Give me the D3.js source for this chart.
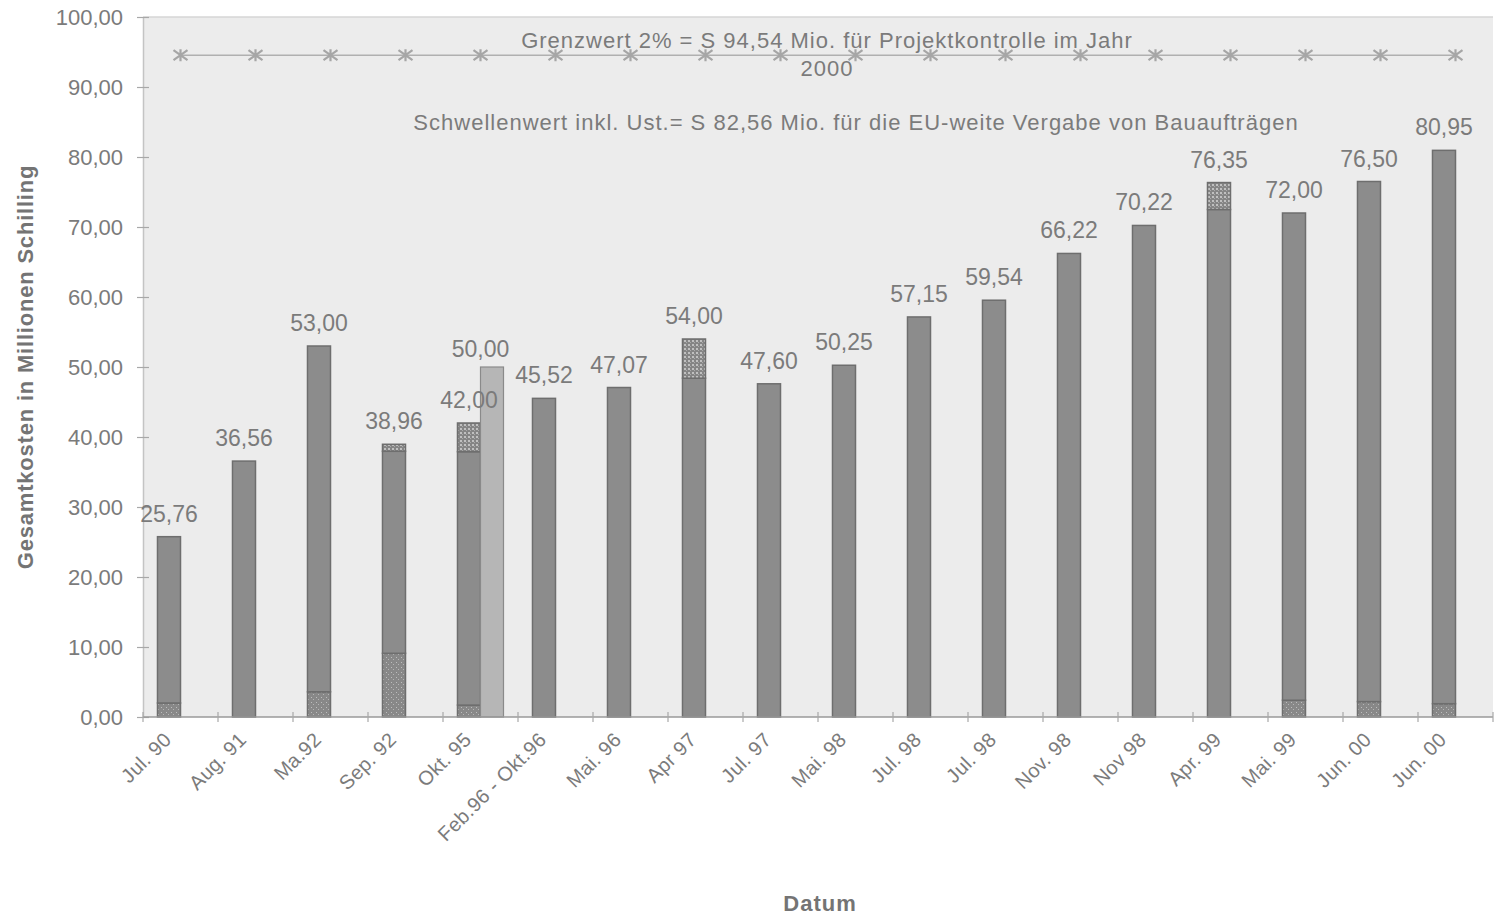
<!DOCTYPE html>
<html>
<head>
<meta charset="utf-8">
<script src="https://cdn.jsdelivr.net/npm/d3@7/dist/d3.min.js"></script>
<style>
  html, body { margin: 0; padding: 0; background: #ffffff; }
  svg { display: block; font-family: "Liberation Sans", Arial, sans-serif; }
</style>
</head>
<body>
<svg id="chart" width="1494" height="918"></svg>
<script>
// Gesamtkosten je Kostenstand (Mio. ATS)
const categories = ["Jul. 90", "Aug. 91", "Ma.92", "Sep. 92", "Okt. 95", "Feb.96 - Okt.96",
  "Mai. 96", "Apr 97", "Jul. 97", "Mai. 98", "Jul. 98", "Jul. 98", "Nov. 98", "Nov 98",
  "Apr. 99", "Mai. 99", "Jun. 00", "Jun. 00"];
const totals = [25.76, 36.56, 53.00, 38.96, 42.00, 45.52, 47.07, 54.00, 47.60, 50.25,
  57.15, 59.54, 66.22, 70.22, 76.35, 72.00, 76.50, 80.95];
// Sockelanteil (unterer Abschnitt) und Nachtrag (oberer Abschnitt) je Balken
const sockel = [2.0, 0, 3.6, 9.1, 1.7, 0, 0, 0, 0, 0, 0, 0, 0, 0, 0, 2.4, 2.2, 1.9];
const nachtrag = [0, 0, 0, 1.0, 4.1, 0, 0, 5.6, 0, 0, 0, 0, 0, 0, 3.85, 0, 0, 0];
// Vergleichswert neben dem Stand Okt. 95
const vergleich = [null, null, null, null, 50.00, null, null, null, null, null,
  null, null, null, null, null, null, null, null];
const grenzwert = 94.54;
const yTicks = [0, 10, 20, 30, 40, 50, 60, 70, 80, 90, 100];
const grenzText = ["Grenzwert 2% = S 94,54 Mio. für Projektkontrolle im Jahr", "2000"];
const schwellenText = "Schwellenwert inkl. Ust.= S 82,56 Mio. für die EU-weite Vergabe von Bauaufträgen";

const plot = { left: 143, right: 1493, top: 17, bottom: 717 };
const svg = d3.select("#chart");

const de = d3.formatLocale({ decimal: ",", thousands: ".", grouping: [3], currency: ["", " S"] });
const fmt = de.format(".2f");

const x = d3.scaleBand().domain(d3.range(categories.length)).range([plot.left, plot.right]);
const sub = d3.scaleBand().domain(["haupt", "vergleich"]).range([0, x.bandwidth()])
  .paddingInner(0).paddingOuter(0.63);
const y = d3.scaleLinear().domain([0, 100]).range([plot.bottom, plot.top]);

const textGray = "#7b7b7b";

// Muster für Nachträge und Sockel
const defs = svg.append("defs");
const pNach = defs.append("pattern").attr("id", "pNach").attr("width", 4).attr("height", 4)
  .attr("patternUnits", "userSpaceOnUse");
pNach.append("rect").attr("width", 4).attr("height", 4).attr("fill", "#858585");
pNach.append("rect").attr("width", 2).attr("height", 2).attr("fill", "#c0c0c0");
pNach.append("rect").attr("x", 2).attr("y", 2).attr("width", 1).attr("height", 1).attr("fill", "#aaaaaa");
const pSockel = defs.append("pattern").attr("id", "pSockel").attr("width", 5).attr("height", 5)
  .attr("patternUnits", "userSpaceOnUse");
pSockel.append("rect").attr("width", 5).attr("height", 5).attr("fill", "#888888");
pSockel.append("rect").attr("x", 1).attr("y", 2).attr("width", 1).attr("height", 1).attr("fill", "#bdbdbd");
pSockel.append("rect").attr("x", 3).attr("y", 4).attr("width", 1).attr("height", 1).attr("fill", "#b5b5b5");

// Diagrammfläche
svg.append("rect")
  .attr("x", plot.left).attr("y", plot.top)
  .attr("width", plot.right - plot.left).attr("height", plot.bottom - plot.top)
  .attr("fill", "#ececec");
svg.append("line")
  .attr("x1", plot.left).attr("x2", plot.right).attr("y1", plot.top).attr("y2", plot.top)
  .attr("stroke", "#d6d6d6").attr("stroke-width", 1.5);

// Y-Achse
const yAxis = svg.append("g").attr("transform", `translate(${plot.left},0)`)
  .call(d3.axisLeft(y).tickValues(yTicks).tickFormat(fmt).tickSizeInner(6).tickSizeOuter(0).tickPadding(14));
yAxis.select(".domain").attr("stroke", "#c4c4c4").attr("stroke-width", 1.5);
yAxis.selectAll(".tick line").attr("x1", -6).attr("x2", 6).attr("stroke", "#a8a8a8").attr("stroke-width", 1.2);
yAxis.selectAll(".tick text").attr("fill", textGray).attr("font-size", 22);

// Grenzwertlinie
const lineData = categories.map((c, i) => ({ i, v: grenzwert }));
const cx = i => x(i) + x.bandwidth() / 2;
svg.append("path").datum(lineData)
  .attr("d", d3.line().x(d => cx(d.i)).y(d => y(d.v)))
  .attr("fill", "none").attr("stroke", "#b0b0b0").attr("stroke-width", 1.5);
const star = "M-7,-5L7,5M-7,5L7,-5M0,-6L0,6";
svg.append("g").selectAll("path").data(lineData).join("path")
  .attr("transform", d => `translate(${cx(d.i)},${y(d.v)})`)
  .attr("d", star).attr("stroke", "#a6a6a6").attr("stroke-width", 2.2).attr("fill", "none");

// Gestapelte Balken
const rows = categories.map((c, i) => ({
  i, sockel: sockel[i], haupt: totals[i] - sockel[i] - nachtrag[i], nachtrag: nachtrag[i]
}));
const stack = d3.stack().keys(["sockel", "haupt", "nachtrag"])(rows);
const fills = { sockel: "url(#pSockel)", haupt: "#8c8c8c", nachtrag: "url(#pNach)" };
const bw = sub.bandwidth();
svg.append("g").selectAll("g").data(stack).join("g")
  .attr("fill", s => fills[s.key])
  .selectAll("rect").data(s => s.filter(d => d[1] - d[0] > 0)).join("rect")
  .attr("x", d => x(d.data.i) + sub("haupt"))
  .attr("width", bw)
  .attr("y", d => y(d[1]))
  .attr("height", d => y(d[0]) - y(d[1]))
  .attr("stroke", "#6e6e6e").attr("stroke-width", 1.5);

// Vergleichsbalken
const vData = vergleich.map((v, i) => ({ i, v })).filter(d => d.v != null);
svg.append("g").selectAll("rect").data(vData).join("rect")
  .attr("x", d => x(d.i) + sub("vergleich"))
  .attr("width", bw)
  .attr("y", d => y(d.v))
  .attr("height", d => y(0) - y(d.v))
  .attr("fill", "#b6b6b6").attr("stroke", "#8a8a8a").attr("stroke-width", 1.2);

// X-Achse
svg.append("line")
  .attr("x1", plot.left).attr("x2", plot.right).attr("y1", plot.bottom).attr("y2", plot.bottom)
  .attr("stroke", "#9a9a9a").attr("stroke-width", 1.5);
svg.append("g").selectAll("line").data(d3.range(categories.length + 1)).join("line")
  .attr("x1", i => plot.left + i * x.step()).attr("x2", i => plot.left + i * x.step())
  .attr("y1", plot.bottom - 5).attr("y2", plot.bottom + 5)
  .attr("stroke", "#a8a8a8").attr("stroke-width", 1.2);
svg.append("g").selectAll("text").data(categories).join("text")
  .attr("transform", (d, i) => `translate(${cx(i) - 8},${plot.bottom + 24}) rotate(-45)`)
  .attr("text-anchor", "end")
  .attr("fill", textGray).attr("font-size", 20).attr("letter-spacing", 0.3)
  .text(d => d);

// Wertbeschriftungen
svg.append("g").selectAll("text").data(totals).join("text")
  .attr("x", (d, i) => x(i) + sub("haupt") + bw / 2)
  .attr("y", d => y(d) - 15)
  .attr("text-anchor", "middle").attr("fill", textGray).attr("font-size", 23)
  .text(d => fmt(d));
svg.append("g").selectAll("text").data(vData).join("text")
  .attr("x", d => cx(d.i))
  .attr("y", d => y(d.v) - 10)
  .attr("text-anchor", "middle").attr("fill", textGray).attr("font-size", 23)
  .text(d => fmt(d.v));

// Hinweistexte
const note = (txt, xp, yp) => svg.append("text").attr("x", xp).attr("y", yp)
  .attr("text-anchor", "middle").attr("fill", textGray)
  .attr("font-size", 22).attr("letter-spacing", 1).text(txt);
note(grenzText[0], 827, 48);
note(grenzText[1], 827, 76);
note(schwellenText, 856, 130);

// Achsentitel
svg.append("text")
  .attr("transform", `translate(33,${(plot.top + plot.bottom) / 2}) rotate(-90)`)
  .attr("text-anchor", "middle").attr("fill", "#747474").attr("font-size", 22)
  .attr("letter-spacing", 0.8).attr("font-weight", "bold")
  .text("Gesamtkosten in Millionen Schilling");
svg.append("text").attr("x", 820).attr("y", 911).attr("text-anchor", "middle")
  .attr("fill", "#747474").attr("font-size", 22).attr("letter-spacing", 1).attr("font-weight", "bold")
  .text("Datum");
</script>
</body>
</html>
